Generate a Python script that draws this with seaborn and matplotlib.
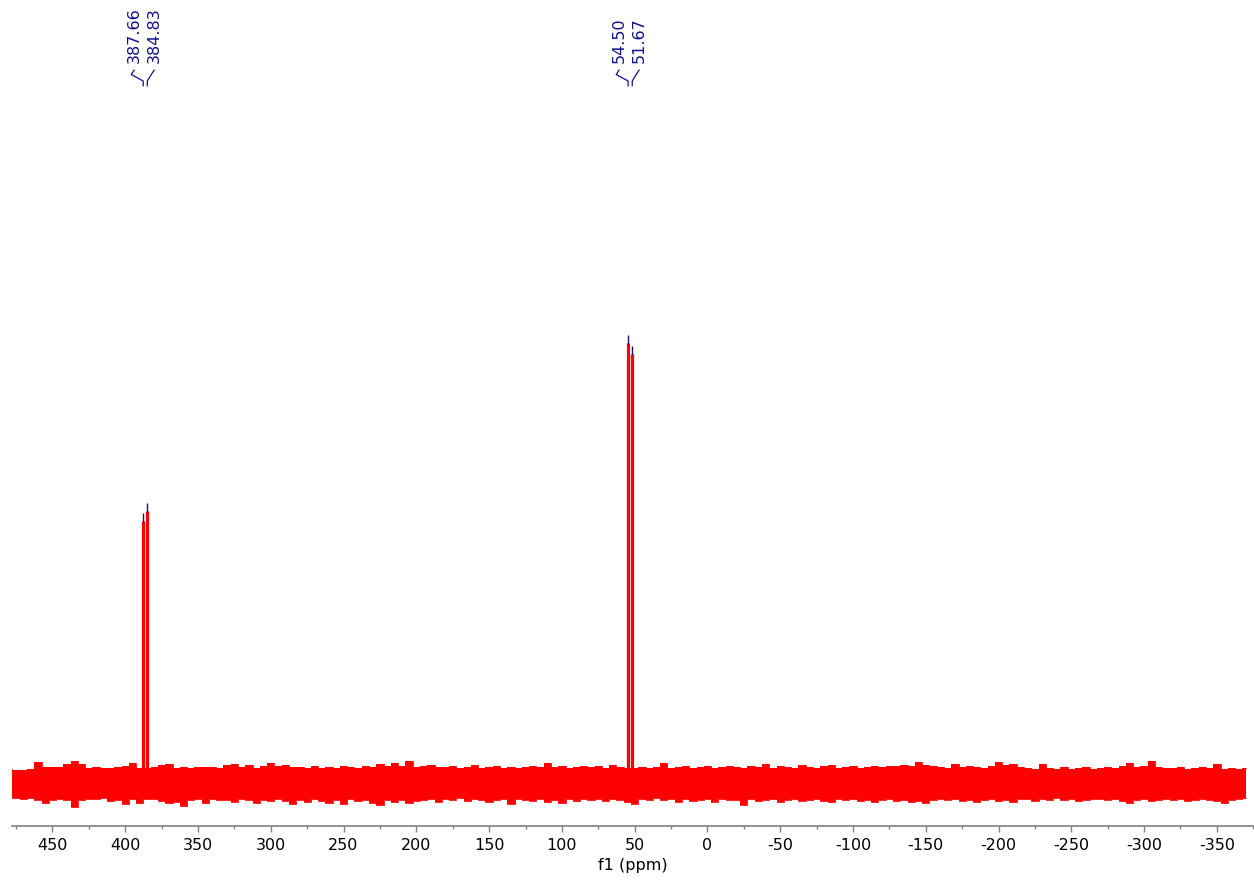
import numpy as np
import pandas as pd
import matplotlib
matplotlib.use("Agg")
import matplotlib.pyplot as plt
import matplotlib.transforms as mtransforms
from matplotlib.ticker import MultipleLocator
import seaborn as sns

# ---- spectrum data -------------------------------------------------------
peak_ppm = [387.66, 384.83, 54.50, 51.67]
peak_height = [270, 280, 448, 437]
label_groups = [[387.66, 384.83], [54.50, 51.67]]

# baseline noise envelope, sampled every 5 ppm from 480 down to -370
noise_ppm = np.arange(480, -375, -5)
noise_top = [
    14, 13, 13, 14, 21, 16, 16, 16, 19, 22,
    19, 15, 16, 15, 15, 16, 17, 20, 15, 15,
    16, 18, 19, 15, 16, 15, 16, 16, 16, 15,
    18, 19, 16, 18, 15, 17, 20, 17, 18, 16,
    16, 15, 17, 15, 16, 15, 17, 16, 15, 17,
    16, 19, 17, 20, 17, 22, 16, 17, 18, 16,
    16, 17, 15, 16, 18, 15, 16, 17, 15, 16,
    15, 16, 17, 16, 20, 16, 17, 15, 16, 17,
    16, 17, 15, 18, 16, 15, 15, 16, 15, 16,
    20, 15, 16, 17, 15, 16, 17, 15, 16, 17,
    16, 15, 17, 16, 19, 15, 17, 16, 15, 18,
    16, 15, 17, 18, 15, 16, 17, 15, 16, 17,
    16, 17, 17, 18, 17, 21, 18, 17, 16, 15,
    19, 16, 17, 16, 15, 17, 21, 18, 19, 16,
    15, 14, 19, 15, 14, 16, 14, 15, 16, 14,
    15, 16, 15, 17, 20, 16, 17, 22, 16, 15,
    15, 16, 14, 15, 16, 15, 19, 14, 15, 14, 15,
]
noise_bottom = [
    -14, -15, -16, -15, -17, -20, -17, -16, -17, -24,
    -17, -16, -16, -15, -18, -17, -21, -16, -20, -16,
    -16, -18, -20, -19, -23, -17, -16, -20, -16, -17,
    -17, -19, -16, -17, -20, -17, -18, -16, -18, -21,
    -17, -19, -16, -18, -20, -17, -21, -16, -18, -17,
    -20, -22, -17, -19, -17, -20, -18, -17, -16, -19,
    -16, -17, -15, -18, -16, -17, -19, -17, -16, -21,
    -16, -17, -18, -16, -19, -17, -20, -16, -18, -16,
    -17, -16, -18, -16, -17, -19, -21, -16, -17, -15,
    -17, -16, -19, -16, -18, -17, -16, -19, -16, -17,
    -17, -22, -16, -18, -17, -16, -19, -17, -16, -18,
    -17, -16, -18, -19, -16, -17, -16, -18, -17, -19,
    -17, -16, -18, -17, -19, -18, -20, -17, -16, -17,
    -16, -18, -17, -19, -17, -16, -18, -17, -19, -16,
    -16, -18, -16, -17, -15, -17, -16, -18, -17, -16,
    -16, -17, -16, -18, -20, -17, -16, -18, -17, -16,
    -17, -16, -18, -17, -16, -17, -18, -20, -17, -16, -15,
]
assert len(noise_top) == len(noise_ppm) == len(noise_bottom)

xticks = list(range(450, -351, -50))

# ---- styling ---------------------------------------------------------------
sns.set_theme(style="white")
plt.rcParams["font.family"] = ["DejaVu Sans"]
plt.rcParams["axes.unicode_minus"] = False

RED = "#ff0000"
NAVY = "#10108c"
AXIS_GRAY = "#7f7f7f"
FS = 11.5

W, H = 1254, 880
fig = plt.figure(figsize=(W / 100, H / 100), dpi=100)
ax_left_px, ax_bottom_px = 11.7, 826
ax = fig.add_axes([ax_left_px / W, 1 - ax_bottom_px / H,
                   (W - ax_left_px) / W, ax_bottom_px / H])

xlim = (478.0, -375.5)
ylim = (-43, 783)
ax.set_xlim(*xlim)
ax.set_ylim(*ylim)

# ---- baseline noise band ---------------------------------------------------
noise_df = pd.DataFrame({"ppm": noise_ppm, "top": noise_top, "bottom": noise_bottom})
ax.fill_between(noise_df["ppm"], noise_df["bottom"], noise_df["top"],
                step="mid", color=RED, linewidth=0)
for col in ("top", "bottom"):
    sns.lineplot(data=noise_df, x="ppm", y=col, ax=ax, color=RED,
                 drawstyle="steps-mid", linewidth=0.6, estimator=None,
                 legend=False)

# ---- peaks -----------------------------------------------------------------
tip = 8
peaks = pd.DataFrame({"ppm": peak_ppm, "height": peak_height})
ax.vlines(peaks["ppm"], 0, peaks["height"] - tip, color=RED, linewidth=2.3)
ax.vlines(peaks["ppm"], peaks["height"] - tip - 1, peaks["height"],
          color=NAVY, linewidth=1.0)

# ---- peak labels with connectors -------------------------------------------
ax_w_px = W - ax_left_px
ppm_per_px = (xlim[0] - xlim[1]) / ax_w_px
blend = mtransforms.blended_transform_factory(ax.transData, ax.transAxes)


def yfrac(py):
    return (ax_bottom_px - py) / ax_bottom_px


for group in label_groups:
    center = float(np.mean(group))
    n = len(group)
    for i, p in enumerate(group):
        off_px = (i - (n - 1) / 2) * 20 - 1
        lx = center - off_px * ppm_per_px
        ax.text(lx, yfrac(63), f"{p:.2f}", rotation=90, ha="center",
                va="bottom", transform=blend, color=NAVY, fontsize=FS)
        xs = [lx, lx + 3 * ppm_per_px, p, p]
        ys = [yfrac(70), yfrac(74.5), yfrac(81), yfrac(86)]
        ax.plot(xs, ys, transform=blend, color=NAVY, linewidth=0.9,
                clip_on=False, solid_joinstyle="round")

# ---- axes ------------------------------------------------------------------
for side in ("left", "right", "top"):
    ax.spines[side].set_visible(False)
ax.spines["bottom"].set_color(AXIS_GRAY)
ax.spines["bottom"].set_linewidth(1.2)
ax.set_yticks([])
ax.set_ylabel("")
ax.set_xticks(xticks)
ax.set_xticklabels([str(t) for t in xticks])
ax.xaxis.set_minor_locator(MultipleLocator(25))
ax.tick_params(axis="x", which="major", direction="out", length=4.5,
               width=1.0, color=AXIS_GRAY, labelsize=FS, labelcolor="black",
               pad=4, bottom=True)
ax.tick_params(axis="x", which="minor", direction="out", length=2.5,
               width=1.0, color=AXIS_GRAY, bottom=True)
ax.set_xlabel("f1 (ppm)", fontsize=FS, color="black", labelpad=4)

fig.savefig("out.png", dpi=100)
